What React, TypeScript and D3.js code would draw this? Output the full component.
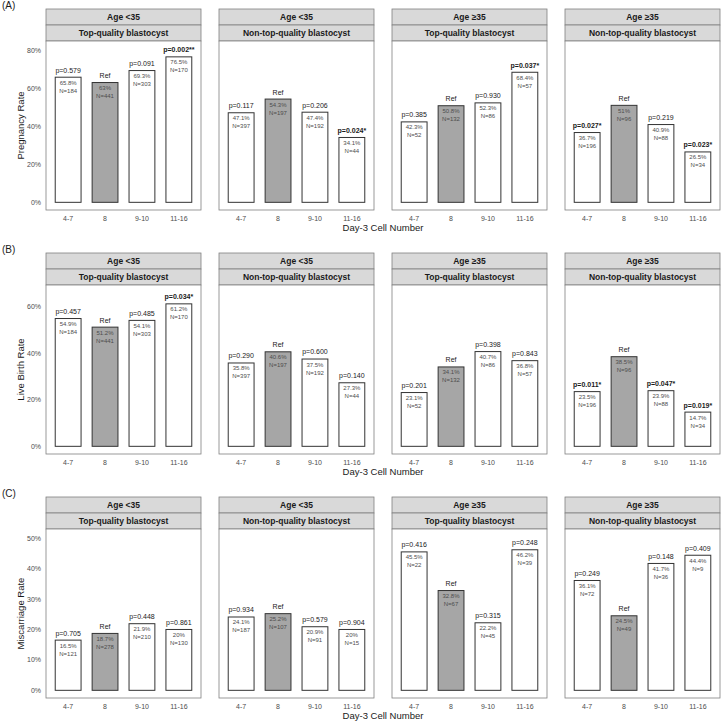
import * as d3 from "d3";

// Day-3 cell number groups on the x axis; "8" is the reference group
const cellGroups = ["4-7", "8", "9-10", "11-16"];
const REF_INDEX = 1;

const ageStrips = ["Age <35", "Age <35", "Age \u226535", "Age \u226535"];
const qualityStrips = [
  "Top-quality blastocyst",
  "Non-top-quality blastocyst",
  "Top-quality blastocyst",
  "Non-top-quality blastocyst",
];

const rowTags = ["(A)", "(B)", "(C)"];
const rowTitles = ["Pregnancy Rate", "Live Birth Rate", "Miscarriage Rate"];
const rowTicks = [
  [0, 20, 40, 60, 80],
  [0, 20, 40, 60],
  [0, 10, 20, 30, 40, 50],
];
// upper data limit before ggplot-style 5% expansion
const rowLimits = [80.8, 66, 50.5];

// rates (%) per panel, in cellGroups order
const pregnancyRate = [
  [65.8, 63, 69.3, 76.5],
  [47.1, 54.3, 47.4, 34.1],
  [42.3, 50.8, 52.3, 68.4],
  [36.7, 51, 40.9, 26.5],
];
const pregnancyN = [
  [184, 441, 303, 170],
  [397, 197, 192, 44],
  [52, 132, 86, 57],
  [196, 96, 88, 34],
];
const pregnancyP = [
  [0.579, null, 0.091, 0.002],
  [0.117, null, 0.206, 0.024],
  [0.385, null, 0.93, 0.037],
  [0.027, null, 0.219, 0.023],
];

const liveBirthRate = [
  [54.9, 51.2, 54.1, 61.2],
  [35.8, 40.6, 37.5, 27.3],
  [23.1, 34.1, 40.7, 36.8],
  [23.5, 38.5, 23.9, 14.7],
];
const liveBirthN = [
  [184, 441, 303, 170],
  [397, 197, 192, 44],
  [52, 132, 86, 57],
  [196, 96, 88, 34],
];
const liveBirthP = [
  [0.457, null, 0.485, 0.034],
  [0.29, null, 0.6, 0.14],
  [0.201, null, 0.398, 0.843],
  [0.011, null, 0.047, 0.019],
];

const miscarriageRate = [
  [16.5, 18.7, 21.9, 20],
  [24.1, 25.2, 20.9, 20],
  [45.5, 32.8, 22.2, 46.2],
  [36.1, 24.5, 41.7, 44.4],
];
const miscarriageN = [
  [121, 278, 210, 130],
  [187, 107, 91, 15],
  [22, 67, 45, 39],
  [72, 49, 36, 9],
];
const miscarriageP = [
  [0.705, null, 0.448, 0.861],
  [0.934, null, 0.579, 0.904],
  [0.416, null, 0.315, 0.248],
  [0.249, null, 0.148, 0.409],
];

const rows = [
  { rate: pregnancyRate, n: pregnancyN, p: pregnancyP },
  { rate: liveBirthRate, n: liveBirthN, p: liveBirthP },
  { rate: miscarriageRate, n: miscarriageN, p: miscarriageP },
];

const WIDTH = 721;
const HEIGHT = 721;
const FONT = "'Liberation Sans', Arial, Helvetica, sans-serif";

const ROW_STEP = 244;
const STRIP_TOP = 9;
const STRIP_H = 16;
const PLOT_BOTTOM = 210;
const PANEL_LEFT = 46;
const PANEL_W = 155;
const PANEL_GAP = 18;

const fmtRate = (v: number) => d3.format(".1f")(v).replace(/\.0$/, "") + "%";
const fmtP = d3.format(".3f");
const stars = (p: number) => (p < 0.01 ? "**" : p < 0.05 ? "*" : "");

const Panel = ({ row, col }: { row: number; col: number }) => {
  const top = row * ROW_STEP;
  const x0 = PANEL_LEFT + col * (PANEL_W + PANEL_GAP);
  const plotTop = top + STRIP_TOP + STRIP_H * 2;
  const plotBottom = top + PLOT_BOTTOM;
  const lim = rowLimits[row];

  const y = d3
    .scaleLinear()
    .domain([-lim * 0.05, lim * 1.05])
    .range([plotBottom, plotTop]);

  const x = d3
    .scalePoint()
    .domain(cellGroups)
    .range([x0, x0 + PANEL_W])
    .padding(0.6);
  const barW = x.step() * 0.7;

  const { rate, n, p } = rows[row];
  // label gap above the bars, in data units
  const offset = 2.4 * (lim / 80.8);

  return (
    <g>
      {/* facet strips */}
      <rect x={x0} y={top + STRIP_TOP} width={PANEL_W} height={STRIP_H} fill="#d9d9d9" stroke="#808080" strokeWidth={0.8} />
      <text x={x0 + PANEL_W / 2} y={top + STRIP_TOP + STRIP_H / 2 + 3} textAnchor="middle" fontSize={8.5} fontWeight="bold" fill="#1a1a1a">
        {ageStrips[col]}
      </text>
      <rect x={x0} y={top + STRIP_TOP + STRIP_H} width={PANEL_W} height={STRIP_H} fill="#d9d9d9" stroke="#808080" strokeWidth={0.8} />
      <text x={x0 + PANEL_W / 2} y={top + STRIP_TOP + STRIP_H * 1.5 + 3} textAnchor="middle" fontSize={8.5} fontWeight="bold" fill="#1a1a1a">
        {qualityStrips[col]}
      </text>
      <rect x={x0} y={plotTop} width={PANEL_W} height={plotBottom - plotTop} fill="white" stroke="#808080" strokeWidth={0.8} />

      {cellGroups.map((g, i) => {
        const cx = x(g) ?? 0;
        const v = rate[col][i];
        const barTop = y(v);
        const isRef = i === REF_INDEX;
        const pv = p[col][i];
        const sig = pv !== null && pv < 0.05;
        return (
          <g key={g}>
            <rect
              x={cx - barW / 2}
              y={barTop}
              width={barW}
              height={y(0) - barTop}
              fill={isRef ? "#a6a6a6" : "white"}
              stroke="#333333"
              strokeWidth={1}
            />
            <text x={cx} y={y(v + offset)} textAnchor="middle" fontSize={7} fill="#1a1a1a" fontWeight={sig ? "bold" : "normal"}>
              {isRef || pv === null ? "Ref" : `p=${fmtP(pv)}${stars(pv)}`}
            </text>
            <text x={cx} y={barTop + 7.5} textAnchor="middle" fontSize={6} fill="#4d4d4d">
              {fmtRate(v)}
            </text>
            <text x={cx} y={barTop + 15.5} textAnchor="middle" fontSize={6} fill="#4d4d4d">
              {`N=${n[col][i]}`}
            </text>
            <text x={cx} y={plotBottom + 10.5} textAnchor="middle" fontSize={7} fill="#4d4d4d">
              {g}
            </text>
          </g>
        );
      })}

      {/* y axis on the first panel of each row */}
      {col === 0 &&
        rowTicks[row].map((t) => (
          <text key={t} x={x0 - 5} y={y(t) + 2.5} textAnchor="end" fontSize={7} fill="#4d4d4d">
            {`${t}%`}
          </text>
        ))}
    </g>
  );
};

export default function App() {
  const centerX = PANEL_LEFT + (4 * PANEL_W + 3 * PANEL_GAP) / 2;
  return (
    <svg
      width={WIDTH}
      height={HEIGHT}
      style={{ position: "absolute", left: 0, top: 0, fontFamily: FONT }}
    >
      <rect width={WIDTH} height={HEIGHT} fill="white" />
      {rowTitles.map((title, r) => {
        const top = r * ROW_STEP;
        const midY = top + (STRIP_TOP + STRIP_H * 2 + PLOT_BOTTOM) / 2;
        return (
          <g key={title}>
            <text x={2} y={top + STRIP_TOP - 0.5} fontSize={10} fill="#1a1a1a">
              {rowTags[r]}
            </text>
            <text
              transform={`translate(${24},${midY}) rotate(-90)`}
              textAnchor="middle"
              fontSize={9.5}
              fill="#1a1a1a"
            >
              {title}
            </text>
            <text x={centerX} y={top + PLOT_BOTTOM + 20.5} textAnchor="middle" fontSize={9.5} fill="#1a1a1a">
              Day-3 Cell Number
            </text>
            {ageStrips.map((_, c) => (
              <Panel key={c} row={r} col={c} />
            ))}
          </g>
        );
      })}
    </svg>
  );
}
